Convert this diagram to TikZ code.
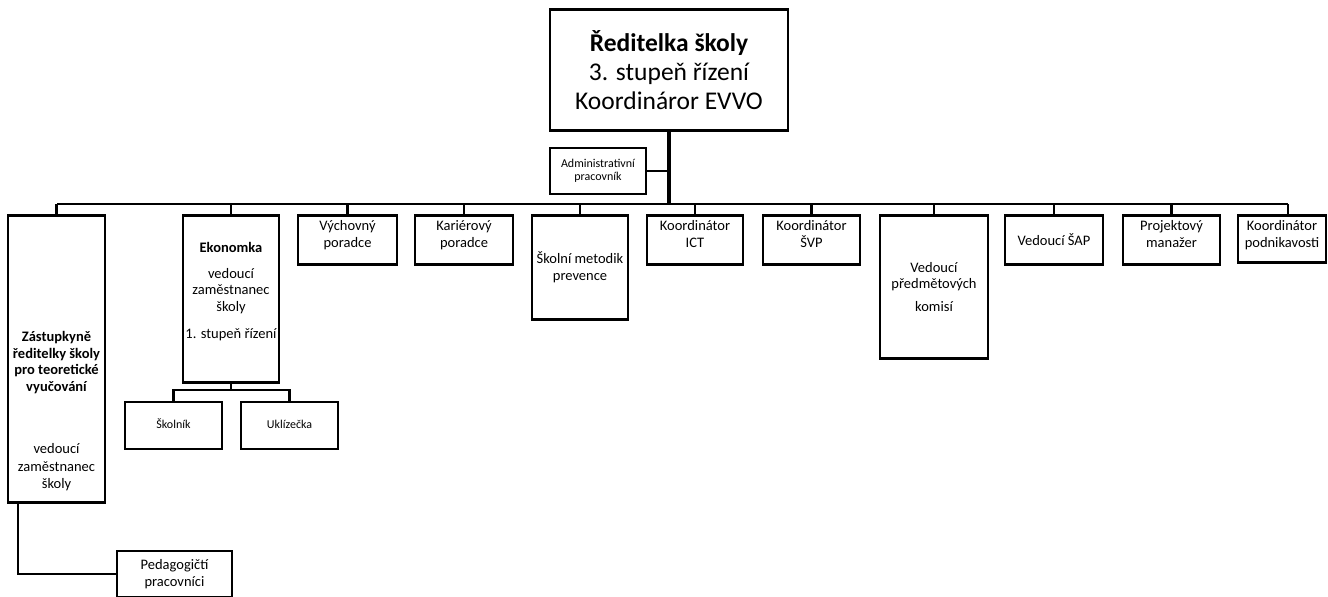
\documentclass[tikz,border=0pt]{standalone}
\usepackage{fontspec}
\setmainfont{Carlito}
\begin{document}
\begin{tikzpicture}[x=1pt, y=-1pt, font=\fontsize{14.5}{16.5}\selectfont,
  box/.style={draw, line width=2.5pt, inner sep=1pt, align=center},
  toptext/.style={label={[anchor=north, align=center, yshift=-3pt]north:#1}},
  small/.style={font=\fontsize{12}{13.5}\selectfont},
  link/.style={line width=2.3pt}]
  \useasboundingbox (0,0) rectangle (1328,597);
  \node[box, minimum width=238pt, minimum height=121pt, font=\fontsize{25.5}{29}\selectfont] (dir) at (669,70) {\textbf{Ředitelka školy}\\3. stupeň řízení\\Koordináror EVVO};
  \node[box, small, minimum width=96pt, minimum height=46pt] (adm) at (598,171) {Administrativní\\pracovník};
  \coordinate (busL) at (57,204);
  \coordinate (busR) at (1288,204);
  \draw[line width=4pt] (dir.south) -- (dir.south |- busL);
  \draw[link] (adm.east) -- (adm.east -| dir.south);
  \draw[link] (busL) -- (busR);
  \foreach \n/\x/\w/\t in {vych/347.5/99/{Výchovný\\poradce}, kari/464/98/{Kariérový\\poradce}, ict/695/96/{Koordinátor\\ICT}, svp/811.5/97/{Koordinátor\\ŠVP}, proj/1171.5/97/{Projektový\\manažer}} {
    \node[box, anchor=north, minimum width=\w pt, minimum height=49pt, toptext={\t}] (\n) at (\x,214) {};
    \draw[link] (\n.north) -- (\n.north |- busL);
  }
  \foreach \n/\x/\w/\h/\t in {metod/580/96/104/{Školní metodik\\prevence}, predm/934/108/143/{Vedoucí\\předmětových\\[6pt]komisí}, sap/1054/98/49/{Vedoucí ŠAP}} {
    \node[box, anchor=north, minimum width=\w pt, minimum height=\h pt] (\n) at (\x,214) {\t};
    \draw[link] (\n.north) -- (\n.north |- busL);
  }
  \node[box, anchor=north, minimum width=88pt, minimum height=47pt, toptext={Koordinátor\\podnikavosti}] (podn) at (1282,214) {};
  \draw[link] (busR) -- (busR |- podn.north);
  \node[box, anchor=north, minimum width=97pt, minimum height=287pt, label={[anchor=south, align=center, yshift=9pt]south:{\bfseries Zástupkyně\\\bfseries ředitelky školy\\\bfseries pro teoretické\\\bfseries vyučování\\[46pt]vedoucí\\[1pt]zaměstnanec\\[1pt]školy}}] (zast) at (56.5,214) {};
  \draw[link] (zast.north) -- (zast.north |- busL);
  \node[box, anchor=north, minimum width=96pt, minimum height=167pt, label={[anchor=north, align=center, yshift=-25pt, inner xsep=0pt]north:{\bfseries Ekonomka\\[9pt]vedoucí\\zaměstnanec\\školy\\[11pt]1. stupeň řízení}}] (ekon) at (231,214) {};
  \draw[link] (ekon.north) -- (ekon.north |- busL);
  \node[box, small, text height=9pt, text depth=2.5pt, minimum width=97pt, minimum height=47pt] (skol) at (173.5,425.5) {Školník};
  \node[box, small, text height=9pt, text depth=2.5pt, minimum width=97pt, minimum height=47pt] (ukl) at (289.5,425.5) {Uklízečka};
  \coordinate (ekb) at (231,390);
  \draw[link] (ekon.south) -- (ekb);
  \draw[link] (skol.north) |- (ekb) -| (ukl.north);
  \node[box, minimum width=115pt, minimum height=46pt] (ped) at (174.5,574) {Pedagogičtí\\pracovníci};
  \draw[link] (ped.west) -| ([xshift=-38.5pt]zast.south);
\end{tikzpicture}
\end{document}
